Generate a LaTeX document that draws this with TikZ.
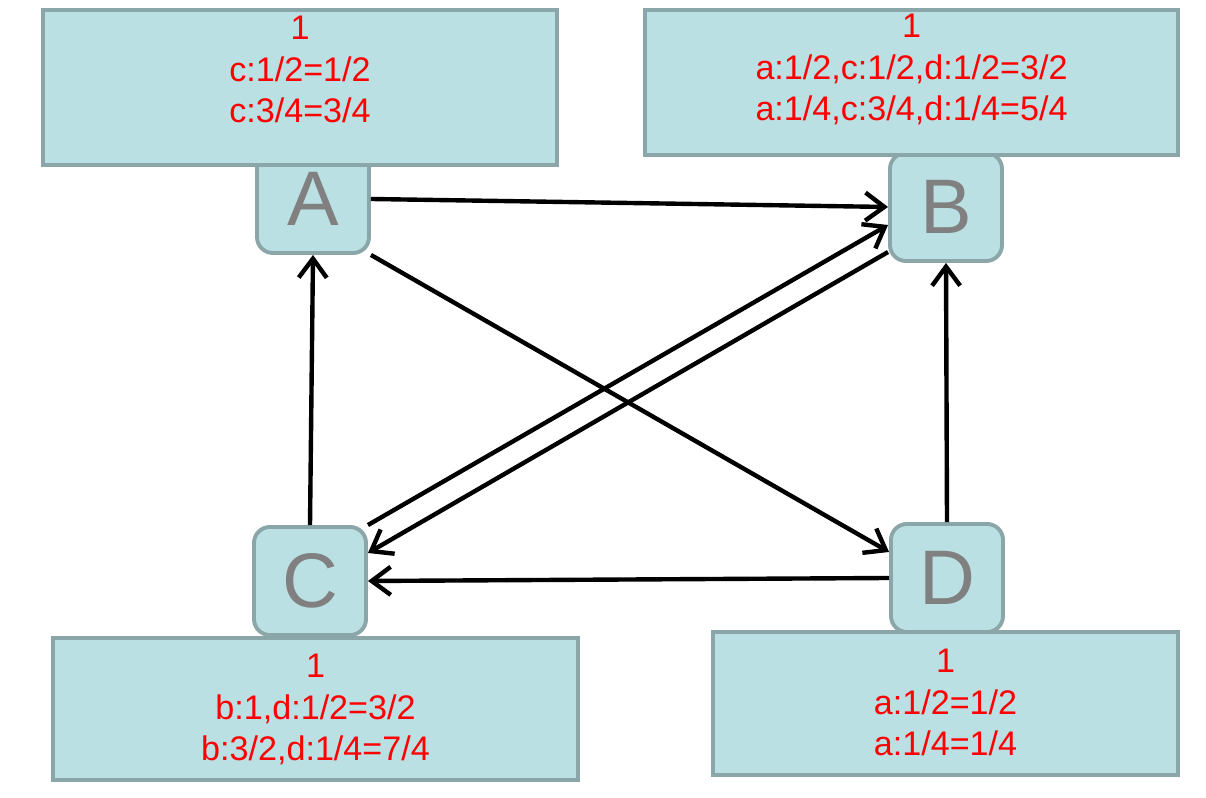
\documentclass[tikz,border=0pt]{standalone}
\usepackage{fontspec}
\setmainfont{Liberation Sans}
\usetikzlibrary{arrows.meta}
\definecolor{boxfill}{RGB}{186,224,227}
\definecolor{boxline}{RGB}{139,166,168}
\definecolor{lettergray}{RGB}{128,128,128}
\begin{document}
\begin{tikzpicture}[x=0.01cm,y=-0.01cm,
  vertex/.style={draw=boxline,fill=boxfill,line width=1.1pt,rounded corners=0.16cm,
    minimum width=1.12cm,minimum height=1.08cm,inner sep=0pt,
    text=lettergray,font=\fontsize{22}{26}\selectfont},
  infobox/.style={draw=boxline,fill=boxfill,line width=1.1pt,inner sep=0pt},
  infotext/.style={anchor=north,inner sep=0pt,align=center,text=red,
    font=\fontsize{9.7}{11.9}\selectfont},
  arr/.style={line width=1.25pt,-{Straight Barb[length=1.9mm,width=2.8mm]}}]
\useasboundingbox (0,0) rectangle (1206,798);
% the four pages
\node[vertex] (A) at (313,199) {A};
\node[vertex] (B) at (946,207) {B};
\node[vertex] (C) at (310,581) {C};
\node[vertex] (D) at (947,578) {D};
% links
\draw[arr] (A.east) -- (B.west);
\draw[arr] (A.south east) -- ([yshift=0.26cm]D.west);
\draw[arr] (C.north) -- (A.south);
\draw[arr] (C.north east) -- ([yshift=-0.18cm]B.west);
\draw[arr] ([yshift=-0.45cm]B.west) -- ([yshift=0.28cm]C.east);
\draw[arr] (D.west) -- (C.east);
\draw[arr] (D.north) -- (B.south);
% value boxes
\node[infobox,minimum width=5.14cm,minimum height=1.55cm] (boxA) at (300,87.5) {};
\node[infotext] (txtA) at ([yshift=-0.07cm]boxA.north) {1\\c:1/2=1/2\\c:3/4=3/4};
\node[infobox,minimum width=5.33cm,minimum height=1.45cm] (boxB) at (911.5,82.5) {};
\node[infotext] (txtB) at ([yshift=-0.05cm]boxB.north) {1\\a:1/2,c:1/2,d:1/2=3/2\\a:1/4,c:3/4,d:1/4=5/4};
\node[infobox,minimum width=5.25cm,minimum height=1.42cm] (boxC) at (315.5,709) {};
\node[infotext] (txtC) at ([yshift=-0.17cm]boxC.north) {1\\b:1,d:1/2=3/2\\b:3/2,d:1/4=7/4};
\node[infobox,minimum width=4.65cm,minimum height=1.43cm] (boxD) at (945.5,703.5) {};
\node[infotext] (txtD) at ([yshift=-0.18cm]boxD.north) {1\\a:1/2=1/2\\a:1/4=1/4};
\end{tikzpicture}
\end{document}
